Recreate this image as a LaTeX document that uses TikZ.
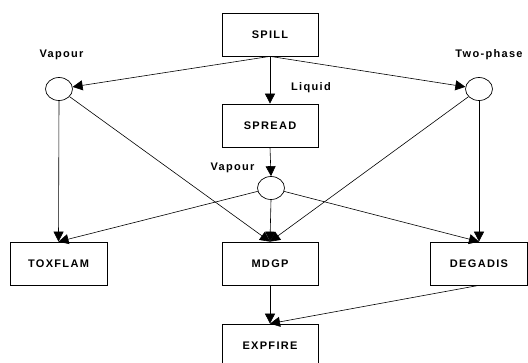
\documentclass[tikz,border=0pt]{standalone}
\usepackage{fontspec}
\setmainfont{Liberation Sans}[LetterSpace=12]
\usetikzlibrary{arrows.meta,shapes.geometric}
\begin{document}
\begin{tikzpicture}[x=1pt,y=-1pt,
  every node/.style={font=\bfseries\fontsize{11}{13}\selectfont},
  box/.style={draw,line width=0.7pt,minimum width=96pt,minimum height=43pt,inner sep=0pt},
  junction/.style={draw,line width=0.7pt,ellipse,minimum width=27pt,minimum height=23pt,inner sep=0pt},
  lbl/.style={anchor=base,inner sep=0pt},
  conn/.style={line width=0.6pt,-{Triangle[length=10pt,width=10pt]}}]
\useasboundingbox (0,0) rectangle (528,362);
\clip (0,0) rectangle (528,362);
\node[box] (spill) at (270,34.5) {SPILL};
\node[box] (spread) at (270,125.5) {SPREAD};
\node[box,minimum width=97pt] (tox) at (58.5,263.5) {TOXFLAM};
\node[box] (mdgp) at (270,263.5) {MDGP};
\node[box,minimum width=97pt] (deg) at (479,263.5) {DEGADIS};
\node[box] (exp) at (270,345.5) {EXPFIRE};
\node[junction] (lc) at (59,89) {};
\node[junction] (rc) at (479,89) {};
\node[junction] (mc) at (271,188) {};
\node[lbl] at (61.5,57.5) {Vapour};
\node[lbl] at (489,57.5) {Two-phase};
\node[lbl] at (311,90) {Liquid};
\node[lbl] at (232.5,170) {Vapour};
\draw[conn] (spill.south) -- (lc);
\draw[conn] (spill.south) -- (spread.north);
\draw[conn] (spill.south) -- (rc);
\draw[conn] (spread.south) -- (mc.north);
\draw[conn] (lc.south) -- (tox.north);
\draw[conn] (lc) -- (mdgp.north);
\draw[conn] (rc.south) -- (deg.north);
\draw[conn] (rc) -- (mdgp.north);
\draw[conn] (mc) -- (tox.north);
\draw[conn] (mc.south) -- (mdgp.north);
\draw[conn] (mc) -- (deg.north);
\draw[conn] (mdgp.south) -- (exp.north);
\draw[conn] (deg.south) -- (exp.north);
\end{tikzpicture}
\end{document}
